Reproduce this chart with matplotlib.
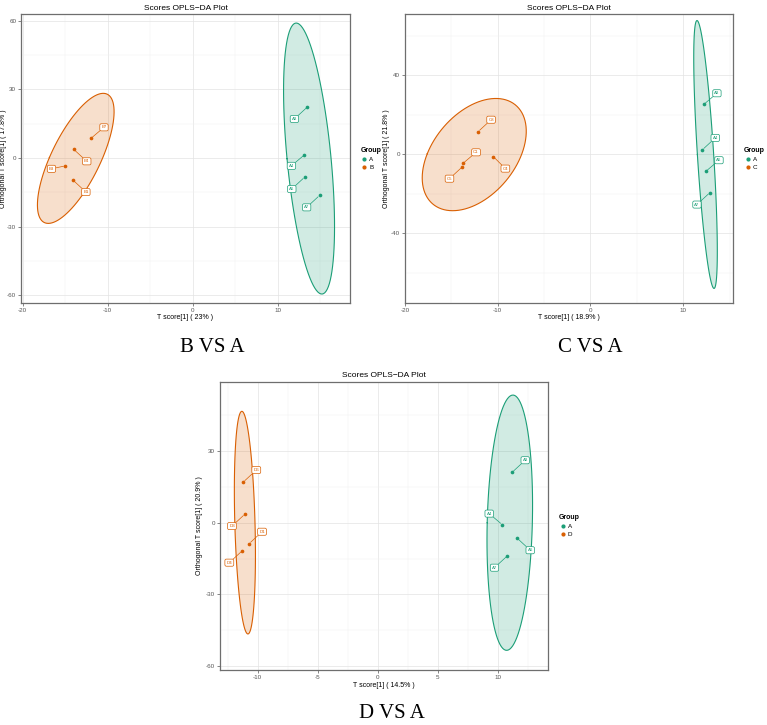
import numpy as np
import matplotlib.pyplot as plt
from matplotlib.lines import Line2D
from matplotlib.ticker import MultipleLocator

plt.rcParams['font.family'] = ['Liberation Sans', 'DejaVu Sans']
plt.rcParams['axes.unicode_minus'] = False

GREEN = '#1B9E77'
ORANGE = '#D95F02'

# ---- B VS A ----
b_names = ['B7', 'B4', 'B3', 'B1']
b_x = [-11.97, -14.0, -14.97, -14.1]
b_y = [8.6, 3.8, -3.4, -9.6]
a1_names = ['A8', 'A4', 'A6', 'A7']
a1_x = [13.49, 13.14, 13.18, 14.93]
a1_y = [22.3, 1.4, -8.3, -16.3]

# ---- C VS A ----
c_names = ['C8', 'C1', 'C5', 'C4']
c_x = [-12.12, -13.74, -13.8, -10.47]
c_y = [11.4, -4.6, -6.3, -1.2]
a2_names = ['A8', 'A4', 'A6', 'A7']
a2_x = [12.23, 12.05, 12.45, 12.88]
a2_y = [25.3, 2.2, -8.6, -19.4]

# ---- D VS A ----
d_names = ['D6', 'D3', 'D1', 'D4']
d_x = [-11.2, -11.06, -10.72, -11.28]
d_y = [17.0, 3.6, -8.8, -11.7]
a3_names = ['A8', 'A4', 'A6', 'A7']
a3_x = [11.19, 10.36, 11.61, 10.8]
a3_y = [21.1, -0.8, -6.5, -13.8]

# label offsets (pixels, right / up) as placed by the repel step
b_off = [(13, 11), (13, -12), (-14, -3), (13, -12)]
a1_off = [(-13, -12), (-13, -11), (-13, -12), (-13, -12)]
c_off = [(13, 12), (13, 11), (-13, -12), (12, -12)]
a2_off = [(13, 11), (13, 12), (13, 11), (-13, -12)]
d_off = [(13, 12), (-13, -12), (13, 12), (-13, -12)]
a3_off = [(13, 12), (-13, 11), (13, -12), (-13, -12)]

# confidence ellipse size in standard deviations
SCALE = 3.55


def ellipse(x, y, n=100):
    pts = np.column_stack([x, y])
    centre = pts.mean(axis=0)
    vals, vecs = np.linalg.eigh(np.cov(pts.T))
    t = np.linspace(0, 2 * np.pi, n)
    circ = np.column_stack([np.cos(t), np.sin(t)])
    return (circ * np.sqrt(vals) * SCALE) @ vecs.T + centre


def draw_group(ax, x, y, names, offs, col):
    e = ellipse(x, y)
    ax.fill(e[:, 0], e[:, 1], color=col, alpha=0.2, lw=0, zorder=1)
    ax.plot(e[:, 0], e[:, 1], color=col, lw=0.8, zorder=2)
    ax.scatter(x, y, s=7, color=col, zorder=3, linewidths=0)
    for xi, yi, nm, (dx, dy) in zip(x, y, names, offs):
        ax.annotate(nm, xy=(xi, yi), xytext=(dx * 0.72, dy * 0.72),
                    textcoords='offset points', ha='center', va='center',
                    fontsize=3.2, color=col, zorder=4,
                    bbox=dict(boxstyle='round,pad=0.35', fc='white', ec=col, lw=0.5),
                    arrowprops=dict(arrowstyle='-', color=col, lw=0.5,
                                    shrinkA=0, shrinkB=1.5))


def panel(rect, other, gx, gy, gnames, goffs, ax_x, ax_y, anames, aoffs,
          xpct, ypct, xstep, ystep, xlim, ylim, ylab_x, xlab_y):
    ax = fig.add_axes(rect)
    draw_group(ax, ax_x, ax_y, anames, aoffs, GREEN)
    draw_group(ax, gx, gy, gnames, goffs, ORANGE)
    ax.set_xlim(*xlim)
    ax.set_ylim(*ylim)
    ax.xaxis.set_major_locator(MultipleLocator(xstep))
    ax.xaxis.set_minor_locator(MultipleLocator(xstep / 2))
    ax.yaxis.set_major_locator(MultipleLocator(ystep))
    ax.yaxis.set_minor_locator(MultipleLocator(ystep / 2))
    ax.grid(which='major', color='#E3E3E3', lw=0.5, zorder=0)
    ax.grid(which='minor', color='#F0F0F0', lw=0.35, zorder=0)
    ax.set_axisbelow(True)
    for s in ax.spines.values():
        s.set_color('#6E6E6E')
        s.set_linewidth(0.9)
    ax.tick_params(which='major', length=2, width=0.5, color='#555555',
                   labelsize=4.5, labelcolor='#555555', pad=1.5)
    ax.tick_params(which='minor', length=0)
    ax.set_xlabel('T score[1] ( %s )' % xpct, fontsize=5)
    ax.set_ylabel('Orthogonal T score[1] ( %s )' % ypct, fontsize=5)
    ax.yaxis.set_label_coords(ylab_x, 0.5)
    ax.xaxis.set_label_coords(0.5, xlab_y)
    ax.set_title('Scores OPLS\u2212DA Plot', fontsize=6, pad=3)
    handles = [Line2D([], [], marker='o', ls='', color=GREEN, markersize=2),
               Line2D([], [], marker='o', ls='', color=ORANGE, markersize=2)]
    ax.legend(handles, ['A', other], title='Group', loc='center left',
              bbox_to_anchor=(1.015, 0.5), frameon=False, fontsize=4.5,
              title_fontproperties={'size': 5, 'weight': 'bold'},
              handletextpad=0.2, labelspacing=0.45, alignment='left',
              handlelength=1.2)
    return ax


fig = plt.figure(figsize=(7.67, 7.25), dpi=100)

panel([0.0274, 0.5821, 0.4289, 0.3986], 'B', b_x, b_y, b_names, b_off,
      a1_x, a1_y, a1_names, a1_off, '23%', '17.8%', 10, 30,
      (-20.2, 18.5), (-63.3, 62.9), -0.043, -0.038)
panel([0.528, 0.5821, 0.4281, 0.3986], 'C', c_x, c_y, c_names, c_off,
      a2_x, a2_y, a2_names, a2_off, '18.9%', '21.8%', 10, 40,
      (-20.0, 15.4), (-75.3, 71.0), -0.046, -0.038)
panel([0.2868, 0.0759, 0.4281, 0.3977], 'D', d_x, d_y, d_names, d_off,
      a3_x, a3_y, a3_names, a3_off, '14.5%', '20.9%', 5, 30,
      (-13.14, 14.2), (-61.6, 59.0), -0.051, -0.041)

cap = dict(fontsize=15, family=['Liberation Serif', 'DejaVu Serif'],
           ha='center', va='baseline')
fig.text(212 / 767, 1 - 352 / 725, 'B VS A', **cap)
fig.text(590 / 767, 1 - 352 / 725, 'C VS A', **cap)
fig.text(392 / 767, 1 - 718 / 725, 'D VS A', **cap)

fig.savefig('out.png', dpi=100)
